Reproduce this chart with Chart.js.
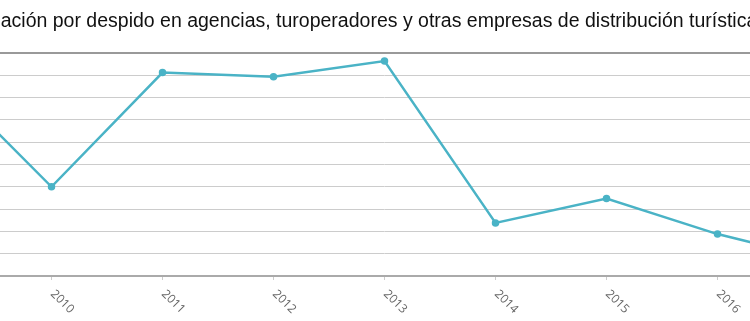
<!DOCTYPE html>
<html>
<head>
<meta charset="utf-8">
<script src="https://cdn.jsdelivr.net/npm/chart.js@4/dist/chart.umd.min.js"></script>
<style>
  html, body { margin: 0; padding: 0; background: #fff; overflow: hidden; }
  #wrap { position: absolute; left: -130px; top: 0; width: 1030px; height: 321px; }
</style>
</head>
<body>
<div id="wrap"><canvas id="chart"></canvas></div>
<script>
// ── Data (y scale is relative, labels were cropped) ──
const TITLE  = 'ación por despido en agencias, turoperadores y otras empresas de distribución turística';
const YEARS  = ['2009', '2010', '2011', '2012', '2013', '2014', '2015', '2016', '2017'];
const VALUES = [9.0, 4.0, 9.12, 8.93, 9.64, 2.38, 3.47, 1.88, 0.65];
const Y_MIN  = 0;
const Y_MAX  = 10;

const LINE_COLOR = '#4ab3c6';

// Rotated year labels that run down-right from each tick
const yearLabels = {
  id: 'yearLabels',
  afterDraw(chart) {
    const { ctx, scales: { x } } = chart;
    ctx.save();
    ctx.font = '12px "Open Sans", sans-serif';
    ctx.fillStyle = '#666666';
    ctx.textAlign = 'left';
    ctx.textBaseline = 'middle';
    x.ticks.forEach((t, i) => {
      const px = x.getPixelForTick(i);
      ctx.save();
      ctx.translate(px + 1, x.top + 16);
      ctx.rotate(Math.PI / 4);
      ctx.fillText(YEARS[i], 0, 0);
      ctx.restore();
    });
    ctx.restore();
  }
};

new Chart(document.getElementById('chart'), {
  type: 'line',
  data: {
    labels: YEARS,
    datasets: [{
      data: VALUES,
      borderColor: LINE_COLOR,
      backgroundColor: LINE_COLOR,
      borderWidth: 2.5,
      pointRadius: 2.5,
      pointHoverRadius: 2.5,
      tension: 0,
      fill: false,
    }],
  },
  options: {
    responsive: true,
    maintainAspectRatio: false,
    animation: false,
    layout: { padding: { left: 4, right: 16, top: 0, bottom: 0 } },
    plugins: {
      legend: { display: false },
      tooltip: { enabled: false },
      title: {
        display: true,
        text: TITLE,
        color: '#111111',
        font: { family: '"Liberation Sans", Arial, sans-serif', size: 19.5, weight: 'normal', lineHeight: 1.2 },
        padding: { top: 10, bottom: 19.6 },
      },
    },
    scales: {
      x: {
        offset: true,
        ticks: { display: false },
        grid: { drawOnChartArea: false, drawTicks: true, tickLength: 4, color: '#cccccc' },
        border: { display: true, color: '#aaaaaa', width: 2 },
        afterFit: s => { s.height = 45; },
      },
      y: {
        min: Y_MIN,
        max: Y_MAX,
        ticks: { display: false, stepSize: 1 },
        grid: {
          drawTicks: false,
          color: c => (c.tick.value === Y_MAX ? '#999999' : '#cccccc'),
          lineWidth: c => (c.tick.value === Y_MAX ? 2 : 1),
        },
        border: { display: false },
        afterFit: s => { s.width = 11; },
      },
    },
  },
  plugins: [yearLabels],
});
</script>
</body>
</html>
